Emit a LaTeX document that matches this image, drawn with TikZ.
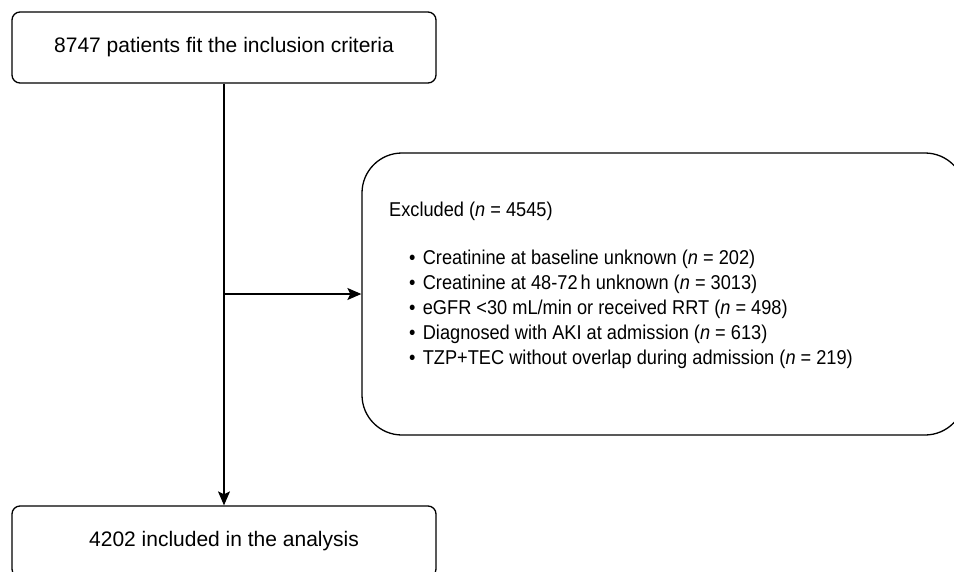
\documentclass[tikz,border=0pt]{standalone}
\usepackage{fontspec}
\setmainfont{Liberation Sans}
\usetikzlibrary{arrows.meta}

\tikzset{
	stepbox/.style={draw, line width=1.3pt, rounded corners=8pt, minimum width=424pt, minimum height=71pt, font=\fontsize{21}{25}\selectfont},
	exclbox/.style={draw, line width=1.3pt, rounded corners=40pt, minimum width=603pt, minimum height=282pt},
	listtext/.style={inner sep=0pt, align=left, font=\fontsize{20}{25}\selectfont},
	flow/.style={line width=1.3pt, -{Stealth[length=14pt,width=12pt,inset=3pt]}}
}
\newcommand{\reason}[1]{\hspace{22pt}\textbullet\hspace{8pt}#1}

\begin{document}
\begin{tikzpicture}[x=1pt,y=-1pt]
	\clip (0,0) rectangle (954,571);
	\useasboundingbox (0,0) rectangle (954,571);
	
	\node[stepbox] (fit) at (224,47.5) {8747 patients fit the inclusion criteria};
	\node[stepbox] (incl) at (224,541.5) {4202 included in the analysis};
	\node[exclbox] (excl) at (663.5,294) {};
	\node[listtext, anchor=north west] (reasons) at (389,198.5) {\scalebox{0.91}[1]{\begin{tabular}{@{}l@{}}
		Excluded (\textit{n} = 4545)\\[23pt]
		\reason{Creatinine at baseline unknown (\textit{n} = 202)}\\
		\reason{Creatinine at 48-72\,h unknown (\textit{n} = 3013)}\\
		\reason{eGFR <30 mL/min or received RRT (\textit{n} = 498)}\\
		\reason{Diagnosed with AKI at admission (\textit{n} = 613)}\\
		\reason{TZP+TEC without overlap during admission (\textit{n} = 219)}
	\end{tabular}}};
	
	\coordinate (split) at (fit.south |- excl.west);
	\draw[flow] (fit.south) -- (incl.north);
	\draw[flow] (split) -- (excl.west);
\end{tikzpicture}
\end{document}
